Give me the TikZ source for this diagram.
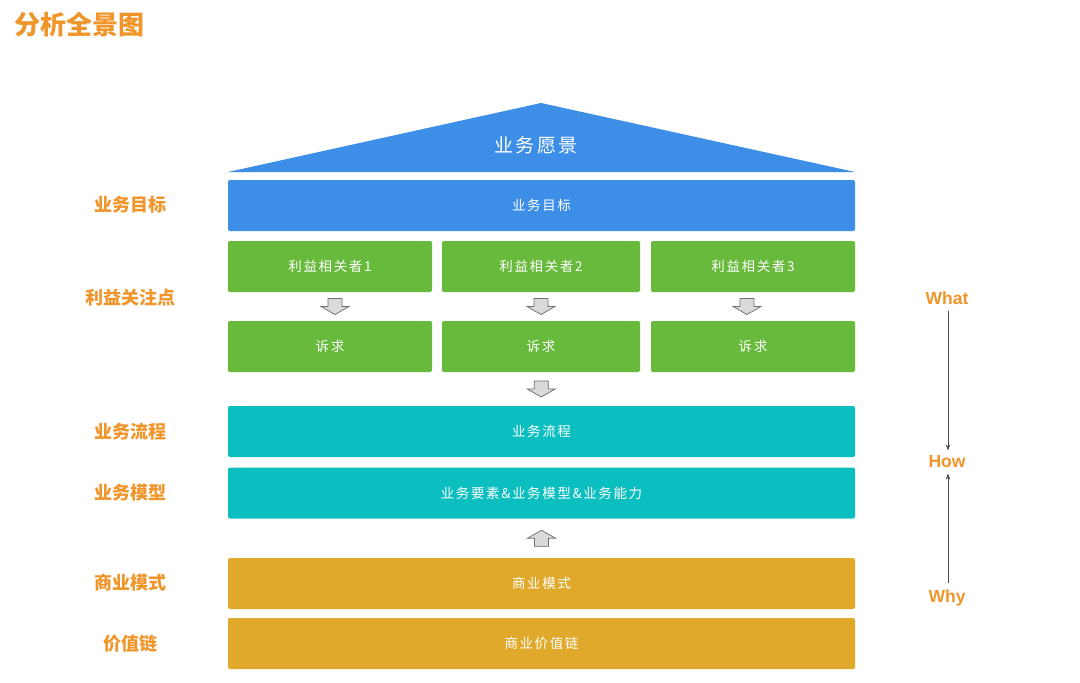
\documentclass[tikz,border=0pt]{standalone}
\usepackage{fontspec}
\newfontfamily\cjk{Noto Sans CJK SC}
\newfontfamily\cjkw{Noto Sans CJK SC}[LetterSpace=12]
\newfontfamily\lat{Liberation Sans}
\usetikzlibrary{calc,arrows.meta}
\definecolor{ttlor}{HTML}{F0952A}
\definecolor{cblue}{HTML}{3D8EE6}
\definecolor{cgreen}{HTML}{67BA3B}
\definecolor{cteal}{HTML}{0BBEBF}
\definecolor{cgold}{HTML}{E1A92B}
\definecolor{agray}{HTML}{DADADA}
\definecolor{aedge}{HTML}{6E6E6E}
\tikzset{
  box/.style={rounded corners=2pt, inner sep=0pt, text=white, font=\cjkw\fontsize{13.5}{15}\selectfont, anchor=center},
  wide/.style={box, minimum width=627pt, minimum height=51pt},
  cell/.style={box, minimum height=51pt},
  side/.style={text=ttlor, font=\cjk\bfseries\fontsize{18}{20}\selectfont},
  qlab/.style={text=ttlor, font=\lat\bfseries\fontsize{17.5}{19}\selectfont},
  blk/.style={fill=agray, draw=aedge, line width=0.7pt, line join=miter},
  flow/.style={draw=black!70, line width=0.6pt, -{Stealth[length=6pt,width=4.5pt]}}
}
\newcommand\dnarrow[1]{\draw[blk] (#1) ++(-7,-8) -- ++(14,0) -- ++(0,8) -- ++(7,0) -- ++(-14,8) -- ++(-14,-8) -- ++(7,0) -- cycle;}
\newcommand\uparrowat[1]{\draw[blk] (#1) ++(-7,8) -- ++(14,0) -- ++(0,-8) -- ++(7,0) -- ++(-14,-8) -- ++(-14,8) -- ++(7,0) -- cycle;}
\begin{document}
\begin{tikzpicture}[x=1pt,y=-1pt]
\useasboundingbox (0,0) rectangle (1080,683);
\fill[white] (0,0) rectangle (1080,683);
% title
\node[anchor=west, text=ttlor, font=\cjk\bfseries\fontsize{26}{28}\selectfont, inner sep=0pt] (title) at (14,25) {分析全景图};
% roof
\coordinate (apex) at (541,103);
\coordinate (rl) at (228,172);
\coordinate (rr) at (855,172);
\fill[cblue] (rl) -- (apex) -- (rr) -- cycle;
\node[text=white, font=\cjkw\fontsize{19}{21}\selectfont] (vision) at (536,145) {业务愿景};
% boxes
\node[wide, fill=cblue] (goal) at (541.5,205.5) {业务目标};
\node[cell, fill=cgreen, minimum width=204pt] (s1) at (330,266.5) {利益相关者1};
\node[cell, fill=cgreen, minimum width=198pt] (s2) at (541,266.5) {利益相关者2};
\node[cell, fill=cgreen, minimum width=204pt] (s3) at (753,266.5) {利益相关者3};
\node[cell, fill=cgreen, minimum width=204pt] (d1) at (330,346.5) {诉求};
\node[cell, fill=cgreen, minimum width=198pt] (d2) at (541,346.5) {诉求};
\node[cell, fill=cgreen, minimum width=204pt] (d3) at (753,346.5) {诉求};
\node[wide, fill=cteal] (proc) at (541.5,431.5) {业务流程};
\node[wide, fill=cteal] (model) at (541.5,493) {业务要素\&业务模型\&业务能力};
\node[wide, fill=cgold] (biz) at (541.5,583.5) {商业模式};
\node[wide, fill=cgold] (chain) at (541.5,643.5) {商业价值链};
% block arrows
\coordinate (a1) at ($($(s1.south)!.5!(d1.north)$)+(5,0)$);
\coordinate (a2) at ($(s2.south)!.5!(d2.north)$);
\coordinate (a3) at ($($(s3.south)!.5!(d3.north)$)+(-6,0)$);
\coordinate (a4) at ($(d2.south)!.5!(proc.north)$);
\coordinate (a5) at ($(model.south)!.5!(biz.north)$);
\dnarrow{a1}
\dnarrow{a2}
\dnarrow{a3}
\dnarrow{a4}
\uparrowat{a5}
% left labels
\node[side] (lgoal) at (130,205) {业务目标};
\node[side] (lint) at (130,298) {利益关注点};
\node[side] (lproc) at (130,432) {业务流程};
\node[side] (lmodel) at (130,493) {业务模型};
\node[side] (lbiz) at (130,583) {商业模式};
\node[side] (lchain) at (130,644) {价值链};
% right labels
\node[qlab] (what) at (947,298) {What};
\node[qlab] (how) at (947,462) {How};
\node[qlab] (why) at (947,598) {Why};
\draw[flow, shorten >=2pt, shorten <=3pt] (what.south -| 948,0) -- (how.north -| 948,0);
\draw[flow, shorten >=2pt, shorten <=3pt] (why.north -| 948,0) -- (how.south -| 948,0);
\end{tikzpicture}
\end{document}
